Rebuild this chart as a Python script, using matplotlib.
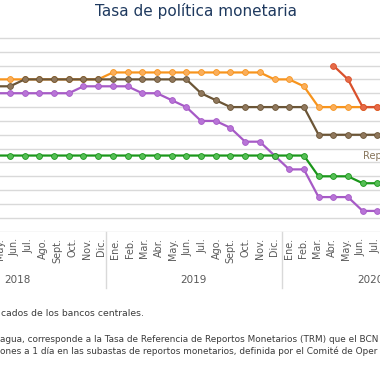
import numpy as np
import matplotlib
matplotlib.use("Agg")
import matplotlib.pyplot as plt
from matplotlib import transforms
from matplotlib.lines import Line2D

# ---- data (monthly, May 2018 .. Jul 2020) ----
month_labels = ["May.", "Jun.", "Jul.", "Ago.", "Sept.", "Oct.", "Nov.", "Dic.",
                "Ene.", "Feb.", "Mar.", "Abr.", "May.", "Jun.", "Jul.", "Ago.",
                "Sept.", "Oct.", "Nov.", "Dic.",
                "Ene.", "Feb.", "Mar.", "Abr.", "May.", "Jun.", "Jul."]
years = ["2018", "2019", "2020"]
year_centers = [0.5, 12.5, 24.5]      # centre of each year group (month index)
year_breaks = [6.5, 18.5]

nan = np.nan
honduras = [5.50, 5.50, 5.50, 5.50, 5.50, 5.50, 5.50, 5.50,
            5.75, 5.75, 5.75, 5.75, 5.75, 5.75, 5.75, 5.75, 5.75, 5.75, 5.75,
            5.50, 5.50, 5.25, 4.50, 4.50, 4.50, 4.50, 4.50]
rep_dominicana = [5.25, 5.25, 5.50, 5.50, 5.50, 5.50, 5.50, 5.50, 5.50,
                  5.50, 5.50, 5.50, 5.50, 5.50, 5.00, 4.75, 4.50, 4.50,
                  4.50, 4.50, 4.50, 4.50, 3.50, 3.50, 3.50, 3.50, 3.50]
costa_rica = [5.00, 5.00, 5.00, 5.00, 5.00, 5.00, 5.25, 5.25, 5.25, 5.25,
              5.00, 5.00, 4.75, 4.50, 4.00, 4.00, 3.75, 3.25, 3.25, 2.75,
              2.25, 2.25, 1.25, 1.25, 1.25, 0.75, 0.75]
guatemala = [2.75] * 22 + [2.00, 2.00, 2.00, 1.75, 1.75]
nicaragua = [nan] * 23 + [6.00, 5.50, 4.50, 4.50]

x = np.arange(-1, len(month_labels) - 1)

W = H = 380
fig = plt.figure(figsize=(3.8, 3.8), dpi=100)
fig.patch.set_facecolor("white")

y0_px, ytop_px = 231.7, 32.3
ax = fig.add_axes([0, (H - y0_px) / H, 1, (y0_px - ytop_px) / H])
ax.set_xlim(-0.493, 25.18)
ax.set_ylim(0, 7.2)
for s in ax.spines.values():
    s.set_visible(False)
ax.set_yticks(np.arange(0, 7.01, 0.5))
ax.set_yticklabels([])
ax.yaxis.grid(True, color="#d9d9d9", lw=1.0)
ax.set_axisbelow(True)
ax.tick_params(length=0)

# category labels sit on a slightly tighter pitch than the markers
label_pos = (0.30 + x * 0.982)
ax.set_xticks(label_pos)
ax.set_xticklabels(month_labels, rotation=90, fontsize=6.9, color="#595959",
                   family="DejaVu Sans")
ax.tick_params(axis="x", pad=4.5)

series = [
    (honduras, "#F7941D", "#FAAE5B", 2),
    (rep_dominicana, "#6B5536", "#8F775C", 3),
    (costa_rica, "#A65AC6", "#B874D7", 4),
    (guatemala, "#1A961A", "#55BE55", 5),
    (nicaragua, "#D9512C", "#E66A47", 6),
]
for vals, lc, fc, z in series:
    ax.plot(x, vals, color=lc, lw=1.6, marker="o", markersize=4.2,
            markerfacecolor=fc, markeredgecolor=lc, markeredgewidth=0.6,
            zorder=z, clip_on=True)

# year group labels and separators
bt = transforms.blended_transform_factory(ax.transData, fig.transFigure)
for yl, xc in zip(years, year_centers):
    ax.text(xc, 1 - 280 / H, yl, transform=bt, ha="center", va="center",
            fontsize=7.5, color="#595959", clip_on=False)
for xb in year_breaks:
    fig.add_artist(Line2D([xb, xb], [1 - y0_px / H, 1 - 288 / H], transform=bt,
                          color="#d9d9d9", lw=1.0))

# series label (partly cut at the right edge)
fig.text(363 / W, 1 - 156 / H, "Rep. Dominicana", ha="left", va="center",
         fontsize=7, color="#86745A")

# title
fig.text(196 / W, 1 - 16 / H, "Tasa de política monetaria", ha="center",
         va="baseline", fontsize=11, color="#1F3A5F")

# footnotes (cropped at the figure edges)
fig.text(1 / W, 1 - 316.5 / H, "cados de los bancos centrales.", ha="left",
         va="baseline", fontsize=6.7, color="#3a3a3a")
fig.text(0 / W, 1 - 342 / H,
         "agua, corresponde a la Tasa de Referencia de Reportos Monetarios (TRM) que el BCN",
         ha="left", va="baseline", fontsize=6.4, color="#3a3a3a")
fig.text(0 / W, 1 - 353.5 / H,
         "ones a 1 día en las subastas de reportos monetarios, definida por el Comité de Oper",
         ha="left", va="baseline", fontsize=6.4, color="#3a3a3a")

fig.savefig("out.png", dpi=100, facecolor="white")
